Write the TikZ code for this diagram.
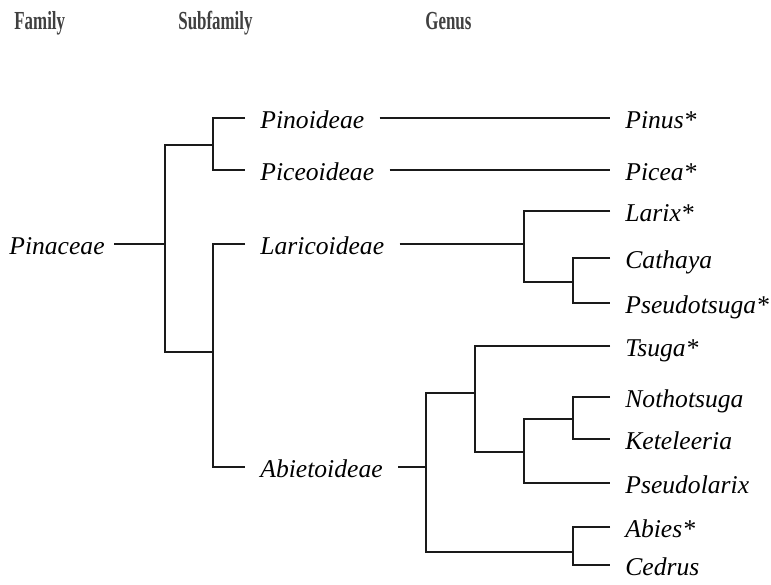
\documentclass[tikz,border=0pt]{standalone}
\usepackage{fontspec}
\setmainfont{Liberation Serif}
\definecolor{headgray}{HTML}{404040}
\definecolor{treeline}{HTML}{1A1A1A}

\begin{document}
\begin{tikzpicture}[x=0.5pt,y=-0.5pt,
	head/.style={anchor=base west,inner sep=0pt,text=headgray,font=\fontsize{13}{15}\selectfont\bfseries},
	taxon/.style={anchor=west,inner xsep=7.5pt,inner ysep=0pt,text height=10pt,text depth=0pt,font=\fontsize{12.8}{15}\selectfont\itshape},
	branch/.style={draw=treeline,line width=0.75pt}]

\useasboundingbox (0,0) rectangle (771,584);%page

	% column titles
	\node [head] (hfam) at (14,29) {\scalebox{0.65}[1]{Family}};
	\node [head] (hsub) at (178,29) {\scalebox{0.65}[1]{Subfamily}};
	\node [head] (hgen) at (425,29) {\scalebox{0.65}[1]{Genus}};

	% family
	\node [taxon,anchor=east,inner xsep=4.5pt] (pinaceae) at (114,244) {Pinaceae};

	% subfamilies
	\node [taxon] (pinoideae) at (245,118) {Pinoideae};
	\node [taxon] (piceoideae) at (245,170) {Piceoideae};
	\node [taxon] (laricoideae) at (245,244) {Laricoideae};
	\node [taxon] (abietoideae) at (245,467) {Abietoideae};

	% genera
	\node [taxon] (pinus) at (610,118) {Pinus*};
	\node [taxon] (picea) at (610,170) {Picea*};
	\node [taxon] (larix) at (610,211) {Larix*};
	\node [taxon] (cathaya) at (610,258) {Cathaya};
	\node [taxon] (pseudotsuga) at (610,303) {Pseudotsuga*};
	\node [taxon] (tsuga) at (610,346) {Tsuga*};
	\node [taxon] (nothotsuga) at (610,397) {Nothotsuga};
	\node [taxon] (keteleeria) at (610,439) {Keteleeria};
	\node [taxon] (pseudolarix) at (610,483) {Pseudolarix};
	\node [taxon] (abies) at (610,527) {Abies*};
	\node [taxon] (cedrus) at (610,565) {Cedrus};

	% branch points
	\coordinate (fam) at (165,244);
	\coordinate (sfA) at (213,145);
	\coordinate (sfB) at (213,352);
	\coordinate (lar) at (524,244);
	\coordinate (lar2) at (573,282);
	\coordinate (abi) at (426,467);
	\coordinate (abiA) at (475,393);
	\coordinate (abiB) at (524,452);
	\coordinate (abiC) at (573,419);
	\coordinate (abiD) at (573,552);

	% family -> subfamilies
	\draw [branch] (pinaceae.east) -- (fam);
	\draw [branch] (sfA) -- (sfA -| fam) -- (sfB -| fam) -- (sfB);
	\draw [branch] (pinoideae.west) -| (sfA) |- (piceoideae.west);
	\draw [branch] (laricoideae.west) -| (sfB) |- (abietoideae.west);

	% Pinoideae, Piceoideae
	\draw [branch] (pinoideae.east) -- (pinus.west);
	\draw [branch] (piceoideae.east) -- (picea.west);

	% Laricoideae
	\draw [branch] (laricoideae.east) -- (lar);
	\draw [branch] (larix.west) -| (lar) |- (lar2);
	\draw [branch] (cathaya.west) -| (lar2) |- (pseudotsuga.west);

	% Abietoideae
	\draw [branch] (abietoideae.east) -- (abi);
	\draw [branch] (abiA) -- (abiA -| abi) -- (abiD -| abi) -- (abiD);
	\draw [branch] (tsuga.west) -| (abiA) |- (abiB);
	\draw [branch] (abiC) -| (abiB) |- (pseudolarix.west);
	\draw [branch] (nothotsuga.west) -| (abiC) |- (keteleeria.west);
	\draw [branch] (abies.west) -| (abiD) |- (cedrus.west);
\end{tikzpicture}
\end{document}
